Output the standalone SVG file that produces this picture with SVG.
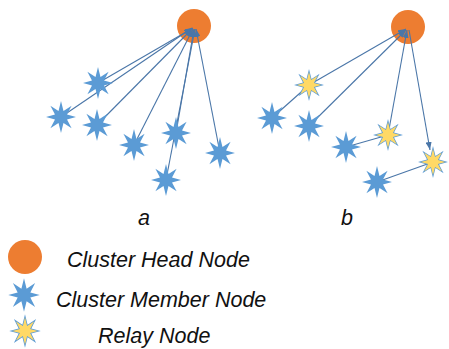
<svg xmlns="http://www.w3.org/2000/svg" width="449" height="349" viewBox="0 0 449 349">
<style>
.head{fill:#ED7D31}
.member{fill:#5B9BD5}
.relay-back{fill:#5B9BD5}
.relay-front{fill:#FFD966}
.link{stroke:#4A76A8;stroke-width:1.1;fill:none}
.lbl{font-family:"Liberation Sans",Arial,sans-serif;font-style:italic;font-size:21.5px;fill:#111}
</style>
<defs>
<path id="star" d="M0,-16 L2.49,-6.01 L10.61,-11.31 L6.01,-2.49 L15,0 L6.01,2.49 L10.61,11.31 L2.49,6.01 L0,16 L-2.49,6.01 L-10.61,11.31 L-6.01,2.49 L-15,0 L-6.01,-2.49 L-10.61,-11.31 L-2.49,-6.01 Z"/>
<marker id="arr" markerUnits="userSpaceOnUse" markerWidth="8" markerHeight="6" refX="8" refY="3" orient="auto">
<path d="M0,0 L8,3 L0,6 Z" fill="#4A76A8"/>
</marker>
</defs>
<rect width="449" height="349" fill="#fff"/>

<!-- heads -->
<g id="headA"><circle class="head" cx="194" cy="26" r="17"/></g>
<g id="headB"><circle class="head" cx="408" cy="27" r="17"/></g>

<!-- connectors -->
<g id="connectors">
<line class="link" x1="98" y1="83" x2="193" y2="28" marker-end="url(#arr)"/>
<line class="link" x1="61" y1="117" x2="192" y2="28" marker-end="url(#arr)"/>
<line class="link" x1="97" y1="125" x2="192" y2="29" marker-end="url(#arr)"/>
<line class="link" x1="134" y1="145" x2="193" y2="29" marker-end="url(#arr)"/>
<line class="link" x1="176" y1="133" x2="194" y2="29" marker-end="url(#arr)"/>
<line class="link" x1="166" y1="180" x2="195" y2="29" marker-end="url(#arr)"/>
<line class="link" x1="220" y1="153" x2="196" y2="29" marker-end="url(#arr)"/>

<line class="link" x1="309" y1="85" x2="406" y2="29" marker-end="url(#arr)"/>
<line class="link" x1="272" y1="118" x2="309" y2="85"/>
<line class="link" x1="309" y1="126" x2="406" y2="30" marker-end="url(#arr)"/>
<line class="link" x1="388" y1="135" x2="407" y2="30" marker-end="url(#arr)"/>
<line class="link" x1="346" y1="147" x2="388" y2="135"/>
<line class="link" x1="409" y1="30" x2="430" y2="150" marker-end="url(#arr)"/>
<line class="link" x1="377" y1="182" x2="433" y2="162"/>
</g>

<!-- diagram a members -->
<g id="a1"><use href="#star" class="member" x="98" y="83"/></g>
<g id="a2"><use href="#star" class="member" x="61" y="117"/></g>
<g id="a3"><use href="#star" class="member" x="97" y="125"/></g>
<g id="a4"><use href="#star" class="member" x="134" y="145"/></g>
<g id="a5"><use href="#star" class="member" x="176" y="133"/></g>
<g id="a6"><use href="#star" class="member" x="220" y="153"/></g>
<g id="a7"><use href="#star" class="member" x="166" y="180"/></g>

<!-- diagram b -->
<g id="b1"><use href="#star" class="relay-back" x="309" y="85"/><use href="#star" class="relay-front" transform="translate(309 85) scale(0.82)"/></g>
<g id="b2"><use href="#star" class="member" x="272" y="118"/></g>
<g id="b3"><use href="#star" class="member" x="309" y="126"/></g>
<g id="b4"><use href="#star" class="member" x="346" y="147"/></g>
<g id="b5"><use href="#star" class="relay-back" x="388" y="135"/><use href="#star" class="relay-front" transform="translate(388 135) scale(0.82)"/></g>
<g id="b6"><use href="#star" class="relay-back" x="433" y="162"/><use href="#star" class="relay-front" transform="translate(433 162) scale(0.82)"/></g>
<g id="b7"><use href="#star" class="member" x="377" y="182"/></g>

<text class="lbl" x="138" y="225">a</text>
<text class="lbl" x="341" y="225">b</text>

<!-- legend -->
<g id="legendHead"><circle class="head" cx="25" cy="257" r="17"/></g>
<g id="legendMember"><use href="#star" class="member" transform="translate(24 295) scale(1.05)"/></g>
<g id="legendRelay"><use href="#star" class="relay-back" transform="translate(25 331) scale(1.05)"/><use href="#star" class="relay-front" transform="translate(25 331) scale(0.85)"/></g>
<text class="lbl" x="67" y="267">Cluster Head Node</text>
<text class="lbl" x="56" y="307">Cluster Member Node</text>
<text class="lbl" x="98" y="343">Relay Node</text>
</svg>
